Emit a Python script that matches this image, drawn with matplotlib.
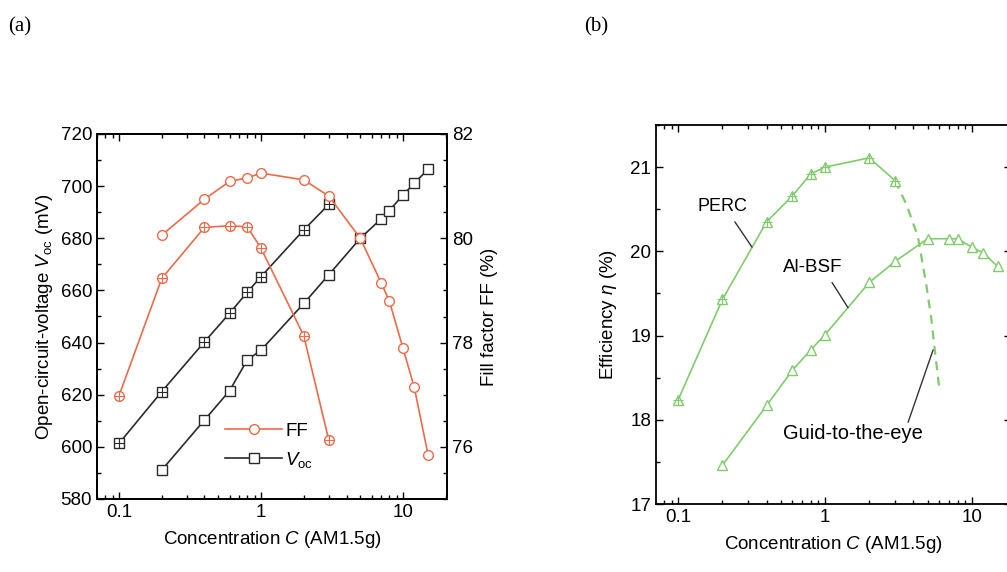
import matplotlib.pyplot as plt
from matplotlib.ticker import MultipleLocator, NullFormatter, LogLocator
import numpy as np

plt.rcParams['font.family'] = ['Liberation Sans', 'DejaVu Sans']
plt.rcParams['mathtext.fontset'] = 'custom'
plt.rcParams['mathtext.rm'] = 'Liberation Sans'
plt.rcParams['mathtext.it'] = 'Liberation Sans:italic'

# ---- datos panel (a) ----
c_voc_open = [0.2, 0.4, 0.6, 0.8, 1, 2, 3, 5, 7, 8, 10, 12, 15]
voc_open = [591.1, 610.3, 621.5, 633.3, 637.1, 655.0, 666.0, 680.0, 687.4, 690.6, 696.6, 701.1, 706.5]
c_voc_cross = [0.1, 0.2, 0.4, 0.6, 0.8, 1, 2, 3]
voc_cross = [601.3, 621.2, 640.3, 651.2, 659.3, 665.3, 683.2, 693.0]

c_ff_open = [0.2, 0.4, 0.6, 0.8, 1, 2, 3, 5, 7, 8, 10, 12, 15]
ff_open = [80.06, 80.75, 81.09, 81.16, 81.25, 81.12, 80.81, 80.0, 79.15, 78.8, 77.89, 77.14, 75.85]
c_ff_cross = [0.1, 0.2, 0.4, 0.6, 0.8, 1, 2, 3]
ff_cross = [76.98, 79.23, 80.21, 80.24, 80.22, 79.81, 78.13, 76.13]

# ---- datos panel (b) ----
c_perc = [0.1, 0.2, 0.4, 0.6, 0.8, 1, 2, 3]
eta_perc = [18.24, 19.43, 20.35, 20.66, 20.92, 21.0, 21.11, 20.84]
c_guide = [3, 3.6, 4.3, 4.9, 5.3, 5.5, 5.8, 6.0]
eta_guide = [20.84, 20.55, 20.17, 19.6, 19.2, 18.94, 18.6, 18.38]
c_albsf = [0.2, 0.4, 0.6, 0.8, 1, 2, 3, 5, 7, 8, 10, 12, 15]
eta_albsf = [17.46, 18.17, 18.59, 18.83, 19.01, 19.63, 19.88, 20.15, 20.15, 20.15, 20.05, 19.98, 19.82]

naranja = '#ef6a48'
negro = '#2a2a2a'
verde = '#80cc6c'
fs = 13.5

fig = plt.figure(figsize=(10.07, 5.72), dpi=100)

def estilo_log(ax, xmin, xmax):
    ax.set_xscale('log')
    ax.set_xlim(xmin, xmax)
    ax.set_xticks([0.1, 1, 10])
    ax.set_xticklabels(['0.1', '1', '10'])
    ax.xaxis.set_minor_locator(LogLocator(base=10, subs=np.arange(2, 10)))
    ax.xaxis.set_minor_formatter(NullFormatter())

# ================= panel (a) =================
ax1 = fig.add_axes([97/1007, 1-499/572, 350/1007, 365/572])
ax2 = ax1.twinx()

ax1.plot(c_voc_open, voc_open, '-', color=negro, lw=1.2, marker='s', ms=6.5,
         mfc='white', mec=negro, mew=1.0, zorder=3)
ax1.plot(c_voc_cross, voc_cross, '-', color=negro, lw=1.2, marker='s', ms=6.5,
         mfc='white', mec=negro, mew=1.0, zorder=3)
ax1.plot(c_voc_cross, voc_cross, ls='none', marker='+', ms=6.5, mec=negro, mew=0.8, zorder=4)

ax2.plot(c_ff_open, ff_open, '-', color=naranja, lw=1.2, marker='o', ms=7,
         mfc='white', mec=naranja, mew=1.0, zorder=3)
ax2.plot(c_ff_cross, ff_cross, '-', color=naranja, lw=1.2, marker='o', ms=7,
         mfc='white', mec=naranja, mew=1.0, zorder=3)
ax2.plot(c_ff_cross, ff_cross, ls='none', marker='+', ms=7, mec=naranja, mew=0.8, zorder=4)

estilo_log(ax1, 0.07, 20.4)
ax1.set_ylim(580, 720)
ax1.yaxis.set_major_locator(MultipleLocator(20))
ax1.yaxis.set_minor_locator(MultipleLocator(10))
ax2.set_ylim(75, 82)
ax2.yaxis.set_major_locator(MultipleLocator(2))
ax2.yaxis.set_minor_locator(MultipleLocator(0.5))

ax1.tick_params(which='both', direction='in', top=True, right=False, labelsize=fs, width=1.0)
ax1.tick_params(which='major', length=5)
ax1.tick_params(which='minor', length=3)
ax2.tick_params(which='both', direction='in', labelsize=fs, width=1.0)
ax2.tick_params(which='major', length=5)
ax2.tick_params(which='minor', length=3)
for a in (ax1, ax2):
    for s in a.spines.values():
        s.set_linewidth(1.3)

ax1.set_xlabel(r'Concentration $C$ (AM1.5g)', fontsize=fs, labelpad=6)
ax1.set_ylabel(r'Open-circuit-voltage $V_{\rm oc}$ (mV)', fontsize=fs, labelpad=4)
ax2.set_ylabel('Fill factor FF (%)', fontsize=fs, labelpad=6)

h_ff, = ax1.plot([], [], '-', color=naranja, lw=1.2, marker='o', ms=7, mfc='white', mec=naranja)
h_voc, = ax1.plot([], [], '-', color=negro, lw=1.2, marker='s', ms=6.5, mfc='white', mec=negro)
ax1.legend([h_ff, h_voc], ['FF', r'$V_{\rm oc}$'], loc='upper left',
           bbox_to_anchor=(0.34, 0.235), frameon=False, fontsize=fs,
           handlelength=3.0, labelspacing=0.55, handletextpad=0.2, borderpad=0)

# ================= panel (b) =================
ax3 = fig.add_axes([656/1007, 1-504/572, 355/1007, 379/572])
ax3.plot(c_perc, eta_perc, '-', color=verde, lw=1.2, marker='^', ms=7.5,
         mfc='white', mec=verde, mew=1.0, zorder=3)
ax3.plot(c_perc, eta_perc, ls='none', marker='+', ms=7, mec=verde, mew=0.8, zorder=4)
ax3.plot(c_guide, eta_guide, '--', color=verde, lw=1.6, dashes=(4, 3), zorder=2)
ax3.plot(c_albsf, eta_albsf, '-', color=verde, lw=1.2, marker='^', ms=7.5,
         mfc='white', mec=verde, mew=1.0, zorder=3)

estilo_log(ax3, 0.0705, 18.5)
ax3.set_ylim(17, 21.5)
ax3.yaxis.set_major_locator(MultipleLocator(1))
ax3.yaxis.set_minor_locator(MultipleLocator(0.5))
ax3.tick_params(which='both', direction='in', top=True, right=True, labelsize=fs, width=1.0)
ax3.tick_params(which='major', length=5)
ax3.tick_params(which='minor', length=3)
for s in ax3.spines.values():
    s.set_linewidth(1.3)
ax3.set_xlabel(r'Concentration $C$ (AM1.5g)', fontsize=fs, labelpad=6)
ax3.set_ylabel(r'Efficiency $\eta$ (%)', fontsize=fs, labelpad=8)

linea = dict(arrowstyle='-', color='#333333', lw=1.0, shrinkA=0, shrinkB=0)
ax3.text(0.20, 20.53, 'PERC', fontsize=13, ha='center', va='center')
ax3.annotate('', xy=(0.318, 20.05), xytext=(0.243, 20.35), arrowprops=linea)
ax3.text(0.83, 19.81, 'Al-BSF', fontsize=13.5, ha='center', va='center')
ax3.annotate('', xy=(1.435, 19.33), xytext=(1.116, 19.63), arrowprops=linea)
ax3.text(1.55, 17.84, 'Guid-to-the-eye', fontsize=14.5, ha='center', va='center')
ax3.annotate('', xy=(5.45, 18.83), xytext=(3.68, 17.97), arrowprops=linea)

# etiquetas de panel
fig.text(8/1007, 1-27/572, '(a)', fontsize=15, family='Liberation Serif', va='center')
fig.text(584/1007, 1-27/572, '(b)', fontsize=15, family='Liberation Serif', va='center')

fig.savefig('out.png', dpi=100)
